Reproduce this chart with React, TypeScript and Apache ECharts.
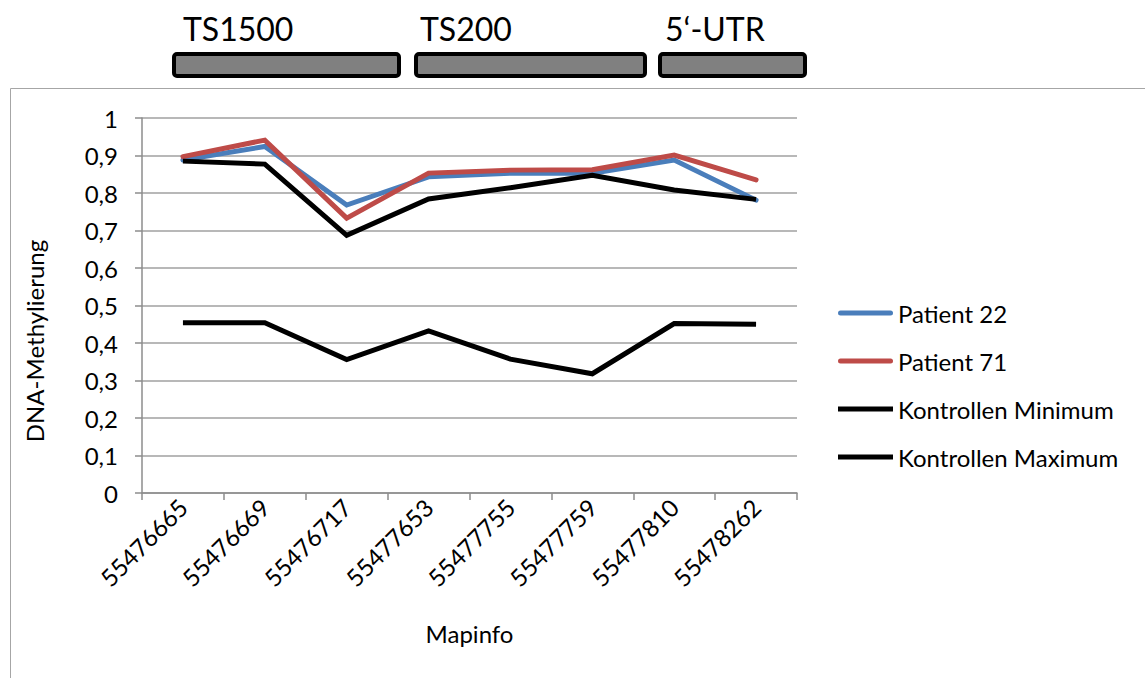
import React, { useEffect, useRef } from "react";
import * as echarts from "echarts";

const categories = ["55476665", "55476669", "55476717", "55477653", "55477755", "55477759", "55477810", "55478262"];
const patient22 = [0.888, 0.924, 0.768, 0.843, 0.853, 0.853, 0.888, 0.781];
const patient71 = [0.897, 0.941, 0.733, 0.853, 0.861, 0.862, 0.901, 0.835];
const kontrollenMin = [0.454, 0.454, 0.356, 0.432, 0.357, 0.318, 0.452, 0.450];
const kontrollenMax = [0.885, 0.877, 0.687, 0.784, 0.814, 0.847, 0.808, 0.783];
const regionLabels = ["TS1500", "TS200", "5‘-UTR"];

const FONT = "Lato, 'Open Sans', sans-serif";
const CAPSULE = "path://M2.5,0 H52.5 A2.5,2.5 0 0 1 52.5,5 H2.5 A2.5,2.5 0 0 1 2.5,0 Z";

export default function App() {
  const ref = useRef<HTMLDivElement>(null);
  useEffect(() => {
    if (!ref.current) return;
    const chart = echarts.init(ref.current, undefined, { renderer: "svg" });
    const boxes = [
      { x: 174, w: 225, tx: 183 },
      { x: 416, w: 229, tx: 420 },
      { x: 660, w: 145, tx: 665 },
    ];
    const graphics: any[] = [
      {
        type: "rect",
        silent: true,
        shape: { x: 10.5, y: 88.5, width: 1300, height: 800 },
        style: { fill: "none", stroke: "#a6a6a6", lineWidth: 1 },
        z: -10,
      },
      {
        type: "text",
        x: 34,
        y: 341,
        rotation: Math.PI / 2,
        style: {
          text: "DNA-Methylierung",
          font: `24px ${FONT}`,
          fill: "#000",
          textAlign: "center",
          textVerticalAlign: "middle",
        },
      },
    ];
    boxes.forEach((b, i) => {
      graphics.push({
        type: "rect",
        shape: { x: b.x, y: 54, width: b.w, height: 22, r: 3 },
        style: { fill: "#808080", stroke: "#000", lineWidth: 4 },
      });
      graphics.push({
        type: "text",
        x: b.tx,
        y: 28,
        style: {
          text: regionLabels[i],
          font: `32px ${FONT}`,
          fill: "#000",
          textAlign: "left",
          textVerticalAlign: "middle",
        },
      });
    });
    const mkLine = (name: string, data: number[], color: string, cap: string) => ({
      name,
      type: "line",
      data,
      symbol: "none",
      showSymbol: false,
      lineStyle: { color, width: 5, cap, join: "miter" },
      itemStyle: { color },
    });
    chart.setOption({
      animation: false,
      textStyle: { fontFamily: FONT },
      graphic: graphics,
      grid: { left: 142, right: 348, top: 118, bottom: 185, containLabel: false },
      legend: {
        orient: "vertical",
        left: 838,
        top: 301,
        padding: 0,
        itemWidth: 55,
        itemHeight: 5,
        itemGap: 24,
        textStyle: { fontSize: 24, color: "#000", fontFamily: FONT },
        data: [
          { name: "Patient 22", icon: CAPSULE },
          { name: "Patient 71", icon: CAPSULE },
          { name: "Kontrollen Minimum", icon: "rect" },
          { name: "Kontrollen Maximum", icon: "rect" },
        ],
      },
      xAxis: {
        type: "category",
        data: categories,
        boundaryGap: true,
        name: "Mapinfo",
        nameLocation: "middle",
        nameGap: 128,
        nameTextStyle: { fontSize: 24, color: "#000", fontFamily: FONT },
        axisLine: { lineStyle: { color: "#8c8c8c", width: 1.5 } },
        axisTick: { show: true, length: 7, lineStyle: { color: "#8c8c8c", width: 1.5 } },
        axisLabel: { rotate: 45, fontSize: 24, color: "#000", margin: 10, interval: 0, fontFamily: FONT },
      },
      yAxis: {
        type: "value",
        min: 0,
        max: 1,
        interval: 0.1,
        axisLine: { show: true, lineStyle: { color: "#8c8c8c", width: 1.5 } },
        axisTick: { show: true, length: 7, lineStyle: { color: "#8c8c8c", width: 1.5 } },
        splitLine: { show: true, lineStyle: { color: "#a0a0a0", width: 1.5 } },
        axisLabel: {
          fontSize: 24,
          color: "#000",
          margin: 24,
          fontFamily: FONT,
          formatter: (v: number) => (Math.round(v * 10) / 10).toString().replace(".", ","),
        },
      },
      series: [
        mkLine("Patient 22", patient22, "#4a7ebb", "round"),
        mkLine("Patient 71", patient71, "#be4b48", "round"),
        mkLine("Kontrollen Minimum", kontrollenMin, "#000000", "butt"),
        mkLine("Kontrollen Maximum", kontrollenMax, "#000000", "butt"),
      ],
    });
    return () => chart.dispose();
  }, []);
  return (
    <div
      ref={ref}
      style={{ position: "fixed", left: 0, top: 0, width: 1145, height: 678, background: "#fff" }}
    />
  );
}
